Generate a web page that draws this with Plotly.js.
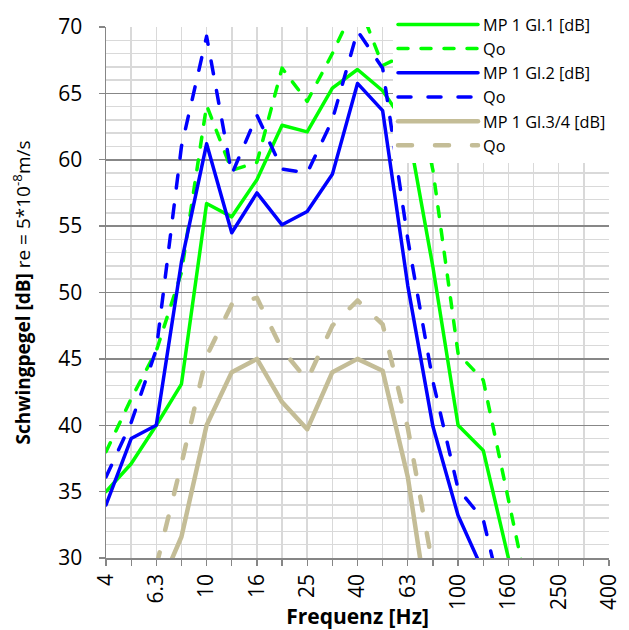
<!DOCTYPE html>
<html><head><meta charset="utf-8">
<script src="https://cdn.plot.ly/plotly-3.0.1.min.js"></script>
<style>
html,body{margin:0;padding:0;background:#fff;}
#chart{width:629px;height:630px;}
path.js-line{stroke-linecap:round;stroke-linejoin:round;}
</style></head><body>
<div id="chart"></div>
<script>
// Third-octave band centre frequencies [Hz]
const freqs = ["4","5","6.3","8","10","12.5","16","20","25","31.5","40","50","63","80","100","125","160","200","250","315","400"];
// Labelled bands (every second band)
const tickLabels = ["4","6.3","10","16","25","40","63","100","160","250","400"];

// MP 1 Gl.1 [dB] and its Qo
const gl1 = [35.0, 37.1, 40.0, 43.1, 56.7, 55.7, 58.5, 62.6, 62.1, 65.4, 66.8, 65.2, 62.4, 51.9, 40.0, 38.1, 30.0, null, null, null, null];
const qo1 = [38.0, 42.0, 45.6, 51.5, 64.1, 59.2, 59.8, 66.9, 64.4, 68.0, 72.0, 67.1, 68.0, 59.2, 45.4, 43.4, 34.4, 25.4, null, null, null];
// MP 1 Gl.2 [dB] and its Qo
const gl2 = [34.0, 39.0, 40.0, 52.3, 61.2, 54.5, 57.5, 55.1, 56.1, 58.9, 65.75, 63.7, 50.5, 39.9, 33.2, 29.0, null, null, null, null, null];
const qo2 = [36.1, 40.2, 45.7, 61.0, 69.3, 58.9, 63.35, 59.3, 59.0, 63.0, 69.7, 66.9, 54.0, 43.3, 35.2, 32.9, 24.9, null, null, null, null];
// MP 1 Gl.3/4 [dB] and its Qo
const gl34 = [null, null, 27.2, 31.6, 40.0, 44.0, 45.0, 41.75, 39.7, 44.0, 45.0, 44.1, 36.1, 23.6, null, null, null, null, null, null, null];
const qo34 = [null, null, 29.4, 37.1, 45.2, 49.1, 49.6, 45.7, 43.4, 47.5, 49.4, 47.6, 39.8, 29.3, null, null, null, null, null, null, null];

const names = ["MP 1 Gl.1 [dB]", "Qo", "MP 1 Gl.2 [dB]", "Qo", "MP 1 Gl.3/4 [dB]", "Qo"];
const series = [gl1, qo1, gl2, qo2, gl34, qo34];
const colors = ["#00FF00", "#00FF00", "#0000FF", "#0000FF", "#C4BD97", "#C4BD97"];
const widths = [3.5, 3.5, 3.5, 3.5, 4.5, 4.5];
const dashes = ["solid", "10px,13px", "solid", "13px,17px", "solid", "14px,23px"];

// band positions on the (equally spaced) third-octave axis
const bandPos = freqs.map((f, i) => i);
const labelPos = tickLabels.map(l => freqs.indexOf(l));

const traces = series.map((ys, i) => ({
  type: "scatter", mode: "lines", x: bandPos, y: ys, name: names[i],
  text: freqs, hovertemplate: "%{text} Hz: %{y}<extra></extra>",
  line: {color: colors[i], width: widths[i], dash: dashes[i]},
  connectgaps: false
}));

const FONT = "Open Sans, Liberation Sans, Arial, sans-serif";
const layout = {
  width: 629, height: 630,
  margin: {l: 106, r: 20, t: 27, b: 72, pad: 0, autoexpand: false},
  paper_bgcolor: "#fff", plot_bgcolor: "#fff",
  font: {family: FONT, color: "#000", size: 18},
  showlegend: true,
  legend: {
    xref: "paper", yref: "paper", x: (393 - 106) / 503, y: 1.0503 - 7 / 531, xanchor: "left", yanchor: "top",
    bgcolor: "#fff", borderwidth: 0, itemwidth: 80, tracegroupgap: 0,
    font: {family: FONT, size: 16.3, color: "#000"}
  },
  xaxis: {
    type: "linear", range: [0, 20], tickmode: "array", tickvals: labelPos, ticktext: tickLabels,
    tickangle: -90, ticks: "outside", ticklen: 6, tickwidth: 1.3, tickcolor: "#868686",
    showline: true, linecolor: "#868686", linewidth: 1.5, mirror: false,
    showgrid: true, gridcolor: "#D9D9D9", gridwidth: 1.5, zeroline: false,
    minor: {tick0: 0, dtick: 1, ticks: "outside", ticklen: 6, tickwidth: 1.3, tickcolor: "#868686",
            showgrid: true, gridcolor: "#D9D9D9", gridwidth: 1.5},
    tickfont: {family: FONT, size: 21, color: "#000"},
    title: {text: "<b>Frequenz [Hz]</b>", font: {family: FONT, size: 21, color: "#000"}}
  },
  yaxis: {
    range: [30, 70], tick0: 30, dtick: 5, ticks: "outside", ticklen: 6, tickwidth: 1.3, tickcolor: "#868686",
    showline: true, linecolor: "#868686", linewidth: 1.5, ticklabelstandoff: 12,
    showgrid: true, gridcolor: "#878787", gridwidth: 1.5, zeroline: false,
    minor: {dtick: 1, showgrid: true, gridcolor: "#D9D9D9", gridwidth: 1.5, ticks: ""},
    tickfont: {family: FONT, size: 21, color: "#000"},
    title: {text: "<b>Schwingpegel [dB]</b> re = 5*10<sup>-8</sup>m/s", standoff: 22,
            font: {family: FONT, size: 19, color: "#000"}}
  }
};
Plotly.newPlot("chart", traces, layout, {displayModeBar: false, staticPlot: true});
</script></body></html>
